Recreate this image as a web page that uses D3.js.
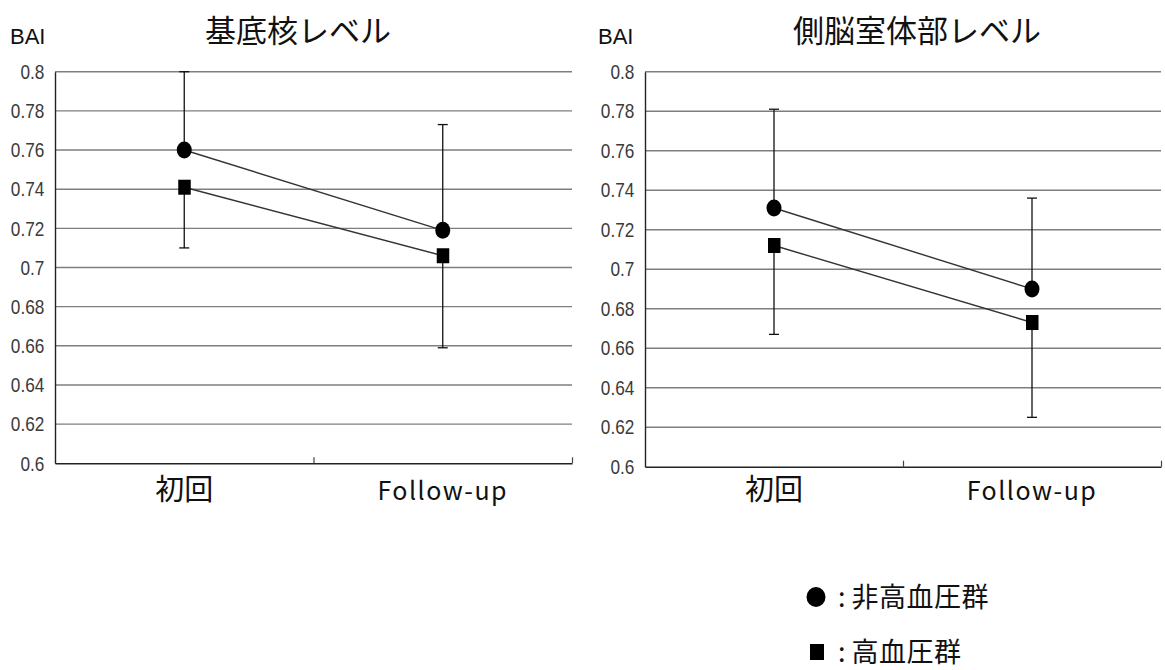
<!DOCTYPE html>
<html>
<head>
<meta charset="utf-8">
<script src="https://cdn.jsdelivr.net/npm/d3@7"></script>
<style>
  html, body { margin: 0; padding: 0; background: #fff; }
  svg { display: block; }
</style>
</head>
<body>
<svg id="chart" width="1165" height="670"></svg>
<script>
// BAI by measurement level: initial vs follow-up, non-hypertensive vs hypertensive
const categories = ["初回", "Follow-up"];
const panelTitles = ["基底核レベル", "側脳室体部レベル"];
const axisTitle = "BAI";
const yTicks = [0.6, 0.62, 0.64, 0.66, 0.68, 0.7, 0.72, 0.74, 0.76, 0.78, 0.8];
const yTickLabels = ["0.6", "0.62", "0.64", "0.66", "0.68", "0.7", "0.72", "0.74", "0.76", "0.78", "0.8"];

// one row per panel, one value per category
const nonHyperMean = [[0.760, 0.719], [0.731, 0.690]];
const nonHyperSD   = [[0.040, 0.054], [0.050, 0.046]];
const hyperMean    = [[0.741, 0.706], [0.712, 0.673]];
const hyperSD      = [[0.031, 0.047], [0.045, 0.048]];
const legendMarks  = [":", ":"];
const legendLabels = ["非高血圧群", "高血圧群"];

const svg = d3.select("#chart");
svg.append("rect").attr("width", 1165).attr("height", 670).attr("fill", "#fff");

const frames = [
  { left: 55,  right: 572,  top: 71.7, bottom: 463.3, titleX: 298, baiX: 10 },
  { left: 645, right: 1161, top: 71.7, bottom: 466.7, titleX: 917, baiX: 598 }
];

const jpFont = "'Noto Sans CJK JP', 'Noto Sans', sans-serif";
const numFont = "'Liberation Sans', Arial, sans-serif";

frames.forEach((f, p) => {
  const g = svg.append("g");

  const y = d3.scaleLinear().domain([0.6, 0.8]).range([f.bottom, f.top]);
  const x = d3.scaleBand().domain(categories).range([f.left, f.right]);
  const xEdge = d3.scaleLinear().domain([0, categories.length]).range([f.left, f.right]);

  // horizontal gridlines
  g.append("g").selectAll("line")
    .data(yTicks.filter(v => v > 0.6))
    .join("line")
    .attr("x1", f.left).attr("x2", f.right)
    .attr("y1", d => y(d)).attr("y2", d => y(d))
    .attr("stroke", "#7e7e7e").attr("stroke-width", 1.4);

  // y axis with labels (narrow numerals)
  const yAxis = g.append("g")
    .attr("transform", `translate(${f.left},0)`)
    .call(d3.axisLeft(y).tickValues(yTicks).tickSize(0).tickPadding(13)
      .tickFormat((d, i) => yTickLabels[i]));
  yAxis.select(".domain").attr("stroke", "#222").attr("stroke-width", 1.4);
  yAxis.selectAll("text")
    .attr("font-family", numFont).attr("font-size", 21).attr("fill", "#3a3a3a")
    .attr("transform", "scale(0.82,1)");

  // x axis: baseline with inward ticks at category boundaries
  const xAxis = g.append("g")
    .attr("transform", `translate(0,${f.bottom})`)
    .call(d3.axisBottom(xEdge).tickValues(d3.range(1, categories.length + 1))
      .tickSize(-6).tickSizeOuter(0).tickFormat(""));
  xAxis.select(".domain").attr("stroke", "#222").attr("stroke-width", 1.4);
  xAxis.selectAll(".tick line").attr("stroke", "#444").attr("stroke-width", 1.2);

  // category labels
  g.append("g").selectAll("text")
    .data(categories)
    .join("text")
    .attr("x", d => x(d) + x.bandwidth() / 2)
    .attr("y", 500)
    .attr("text-anchor", "middle")
    .attr("font-family", jpFont)
    .attr("font-size", d => d === "Follow-up" ? 25 : 29)
    .attr("letter-spacing", d => d === "Follow-up" ? 1.5 : 0)
    .attr("fill", "#111")
    .text(d => d);

  // titles
  g.append("text")
    .attr("x", f.titleX).attr("y", 42)
    .attr("text-anchor", "middle")
    .attr("font-family", jpFont).attr("font-size", 31)
    .attr("fill", "#111")
    .text(panelTitles[p]);
  g.append("text")
    .attr("x", f.baiX).attr("y", 44)
    .attr("font-family", numFont).attr("font-size", 22)
    .attr("fill", "#111")
    .text(axisTitle);

  const cx = c => x(c) + x.bandwidth() / 2;
  const nonHyper = categories.map((c, i) => ({ c, v: nonHyperMean[p][i], e: nonHyperSD[p][i] }));
  const hyper = categories.map((c, i) => ({ c, v: hyperMean[p][i], e: hyperSD[p][i] }));

  const capW = 5;
  // error bars: upward for non-hypertensive, downward for hypertensive
  const errs = g.append("g").attr("stroke", "#111").attr("stroke-width", 1.3);
  nonHyper.forEach(d => {
    errs.append("line").attr("x1", cx(d.c)).attr("x2", cx(d.c))
      .attr("y1", y(d.v)).attr("y2", y(d.v + d.e));
    errs.append("line").attr("x1", cx(d.c) - capW).attr("x2", cx(d.c) + capW)
      .attr("y1", y(d.v + d.e)).attr("y2", y(d.v + d.e));
  });
  hyper.forEach(d => {
    errs.append("line").attr("x1", cx(d.c)).attr("x2", cx(d.c))
      .attr("y1", y(d.v)).attr("y2", y(d.v - d.e));
    errs.append("line").attr("x1", cx(d.c) - capW).attr("x2", cx(d.c) + capW)
      .attr("y1", y(d.v - d.e)).attr("y2", y(d.v - d.e));
  });

  // connecting lines
  const line = d3.line().x(d => cx(d.c)).y(d => y(d.v));
  [nonHyper, hyper].forEach(s => {
    g.append("path").datum(s).attr("d", line)
      .attr("fill", "none").attr("stroke", "#333").attr("stroke-width", 1.4);
  });

  // markers
  g.append("g").selectAll("ellipse").data(nonHyper).join("ellipse")
    .attr("cx", d => cx(d.c)).attr("cy", d => y(d.v))
    .attr("rx", 7.5).attr("ry", 8.5).attr("fill", "#000");
  g.append("g").selectAll("rect").data(hyper).join("rect")
    .attr("x", d => cx(d.c) - 6).attr("y", d => y(d.v) - 7.5)
    .attr("width", 12.5).attr("height", 15).attr("fill", "#000");
});

// legend
const legend = svg.append("g");
const legendY = [597, 652];
legendLabels.forEach((lab, i) => {
  if (i === 0) {
    legend.append("ellipse").attr("cx", 816).attr("cy", legendY[i])
      .attr("rx", 9.5).attr("ry", 10).attr("fill", "#000");
  } else {
    legend.append("rect").attr("x", 810).attr("y", legendY[i] - 8)
      .attr("width", 14).attr("height", 16).attr("fill", "#000");
  }
  const t = legend.append("text")
    .attr("x", 838).attr("y", legendY[i] + 10)
    .attr("font-family", jpFont).attr("font-size", 27)
    .attr("fill", "#111");
  t.append("tspan").text(legendMarks[i]);
  t.append("tspan").attr("dx", 6).attr("letter-spacing", 0.5).text(lab);
});
</script>
</body>
</html>
